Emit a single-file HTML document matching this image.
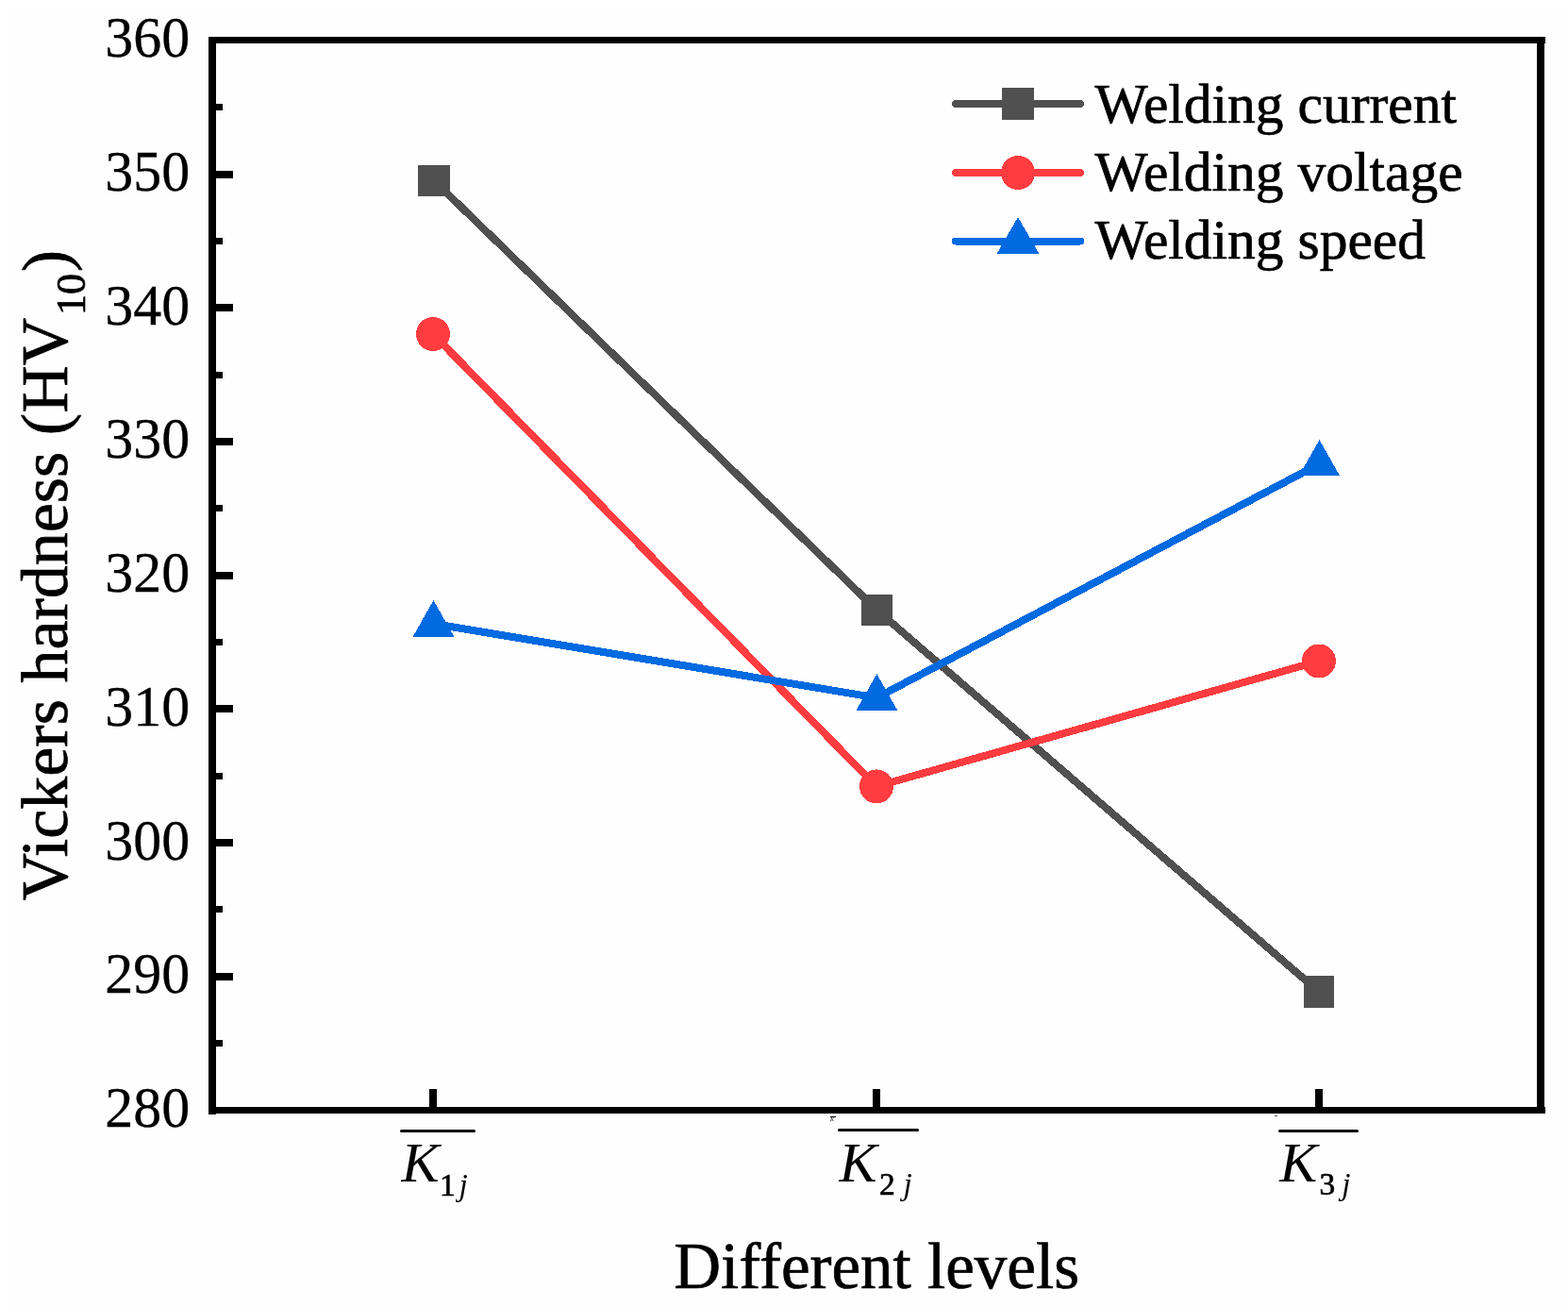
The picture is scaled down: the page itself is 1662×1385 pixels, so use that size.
<!DOCTYPE html>
<html><head><meta charset="utf-8"><title>Vickers hardness vs Different levels</title>
<style>
html,body{margin:0;padding:0;background:#fff;}
body{width:1662px;height:1385px;overflow:hidden;}
svg{display:block;}
text{font-family:"Liberation Serif","Times New Roman",serif;fill:#000;stroke:#000;stroke-width:0.7px;}
text[font-style="italic"]{stroke-width:0;}
.yl text{stroke-width:0.3px;}
</style></head>
<body>
<svg width="1662" height="1385" viewBox="0 0 1662 1385">
<rect x="0" y="0" width="1662" height="1385" fill="#ffffff"/>
<rect x="8" y="8" width="1654" height="1377" fill="#fefefe"/>

<!-- frame -->
<g fill="#000" shape-rendering="crispEdges">
<rect x="221" y="39" width="1417" height="7"/>
<rect x="221" y="1173" width="1417" height="7"/>
<rect x="221" y="39" width="8" height="1142"/>
<rect x="1629" y="39" width="8" height="1141"/>
<!-- major y ticks -->
<rect x="229" y="181" width="18" height="8"/>
<rect x="229" y="322" width="18" height="8"/>
<rect x="229" y="464" width="18" height="8"/>
<rect x="229" y="606" width="18" height="8"/>
<rect x="229" y="747" width="18" height="8"/>
<rect x="229" y="889" width="18" height="8"/>
<rect x="229" y="1031" width="18" height="8"/>
<!-- minor y ticks -->
<rect x="229" y="110" width="7" height="7"/>
<rect x="229" y="252" width="7" height="7"/>
<rect x="229" y="394" width="7" height="7"/>
<rect x="229" y="535" width="7" height="7"/>
<rect x="229" y="677" width="7" height="7"/>
<rect x="229" y="819" width="7" height="7"/>
<rect x="229" y="960" width="7" height="7"/>
<rect x="229" y="1102" width="7" height="7"/>
<!-- x ticks -->
<rect x="455" y="1154" width="8" height="19"/>
<rect x="925" y="1154" width="8" height="19"/>
<rect x="1394" y="1154" width="8" height="19"/>
</g>

<!-- y tick labels -->
<g font-size="60" text-anchor="end" class="yl">
<text transform="translate(201.2,60.1) scale(1,1.025)">360</text>
<text transform="translate(201.2,201.8) scale(1,1.025)">350</text>
<text transform="translate(201.2,343.6) scale(1,1.025)">340</text>
<text transform="translate(201.2,485.4) scale(1,1.025)">330</text>
<text transform="translate(201.2,627.1) scale(1,1.025)">320</text>
<text transform="translate(201.2,768.9) scale(1,1.025)">310</text>
<text transform="translate(201.2,910.6) scale(1,1.025)">300</text>
<text transform="translate(201.2,1052.3) scale(1,1.025)">290</text>
<text transform="translate(201.2,1194.1) scale(1,1.025)">280</text>
</g>

<!-- x tick labels -->
<g stroke="#000" stroke-width="3" stroke-linecap="round">
<line x1="425.5" y1="1198.5" x2="502.5" y2="1198.5"/>
<line x1="889.5" y1="1197.5" x2="972.5" y2="1197.5"/>
<line x1="1356.5" y1="1198.5" x2="1438.5" y2="1198.5"/>
</g>
<g>
<text x="425.6" y="1252" font-size="60" font-style="italic">K</text>
<text x="466" y="1266.5" font-size="33.4">1</text>
<text x="486.5" y="1266.5" font-size="33.4" font-style="italic">j</text>
<text x="889.6" y="1252" font-size="60" font-style="italic">K</text>
<text x="932" y="1266" font-size="33.4">2</text>
<text x="957.5" y="1266" font-size="33.4" font-style="italic">j</text>
<text x="1356.3" y="1252" font-size="60" font-style="italic">K</text>
<text x="1398.5" y="1266" font-size="33.4">3</text>
<text x="1422.3" y="1266" font-size="33.4" font-style="italic">j</text>
</g>
<rect x="880" y="1183" width="6" height="1" fill="#000"/>
<text x="880" y="1188" font-size="6" font-style="italic" fill="#444">K</text>
<rect x="1351" y="1182" width="3" height="1" fill="#555"/>

<!-- axis titles -->
<text x="714.2" y="1365" font-size="69">Different levels</text>
<g transform="translate(71.5,0) rotate(-90)">
<text x="-954.6" y="-1" font-size="70">Vickers hardness (HV</text>
<text x="-334" y="18.5" font-size="44">1</text>
<text x="-312" y="18.5" font-size="44">0</text>
<text x="-288" y="0" font-size="69">)</text>
</g>

<!-- data: current -->
<g shape-rendering="crispEdges">
<polyline points="460,191.4 929.5,646.5 1398,1051" fill="none" stroke="#505050" stroke-width="8" stroke-linejoin="round"/>
<rect x="443" y="175" width="34" height="33" fill="#505050"/>
<rect x="913" y="630" width="33" height="33" fill="#505050"/>
<rect x="1382" y="1034" width="32" height="34" fill="#505050"/>
</g>
<!-- voltage -->
<g fill="#ff3c40" shape-rendering="crispEdges">
<polyline points="459,354 929,833.4 1398,700.5" fill="none" stroke="#ff3c40" stroke-width="8" stroke-linejoin="round"/>
<circle cx="459" cy="354" r="18"/>
<circle cx="929" cy="833.4" r="18"/>
<circle cx="1398" cy="700.5" r="18"/>
</g>
<!-- speed -->
<g fill="#006ae0" shape-rendering="crispEdges">
<polyline points="459.5,661 929.4,739.4 1398.5,491.5" fill="none" stroke="#006ae0" stroke-width="8" stroke-linejoin="round"/>
<polygon points="459.5,636 481.5,675 437.5,675"/>
<polygon points="929.4,714 951.4,753 907.4,753"/>
<polygon points="1398.5,466 1420,504 1377,504"/>
</g>

<!-- legend -->
<g shape-rendering="crispEdges">
<g stroke-linecap="round" stroke-width="8">
<line x1="1013" y1="110" x2="1145" y2="110" stroke="#505050"/>
<line x1="1013" y1="183" x2="1145" y2="183" stroke="#ff3c40"/>
<line x1="1013" y1="255.5" x2="1145" y2="255.5" stroke="#006ae0"/>
</g>
<rect x="1062" y="93" width="34" height="34" fill="#505050"/>
<circle cx="1079" cy="183" r="18" fill="#ff3c40"/>
<polygon points="1079,230 1101.5,269 1056.5,269" fill="#006ae0"/>
</g>
<g font-size="59.5">
<text x="1160.5" y="129.6">Welding current</text>
<text x="1160.5" y="201.6">Welding voltage</text>
<text x="1160.5" y="273.8">Welding speed</text>
</g>
</svg>
</body></html>
